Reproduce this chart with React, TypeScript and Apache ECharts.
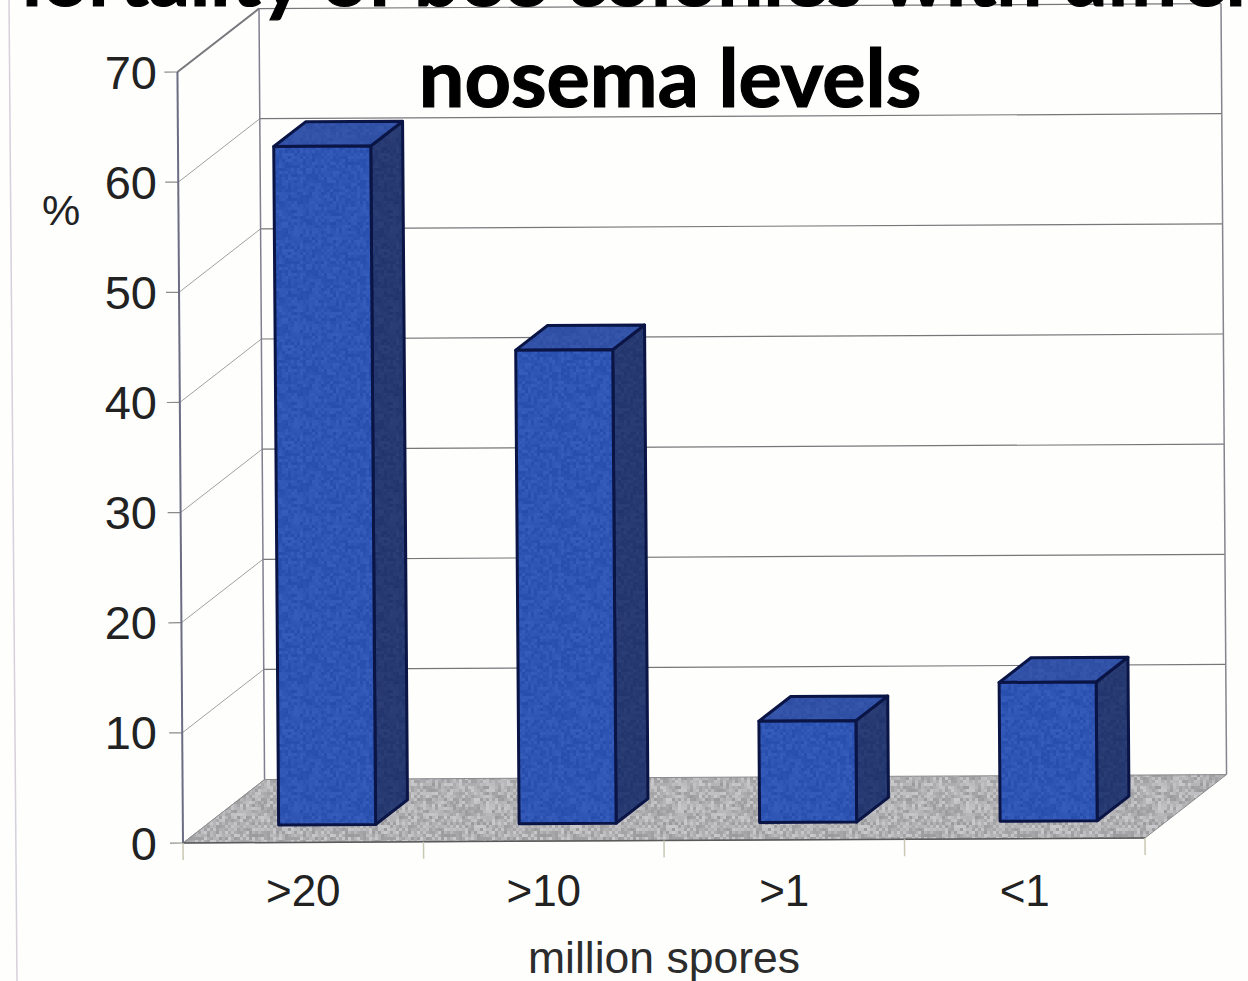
import React, { useEffect, useRef } from "react";
import * as echarts from "echarts";

const categories = [">20", ">10", ">1", "<1"];
const mortality = [61.6, 43.0, 9.2, 12.6];
const yTicks = [0, 10, 20, 30, 40, 50, 60, 70];
const titleLines = ["Mortality of bee colonies with different", "nosema levels"];
const xName = "million spores";
const yName = "%";

const GRID = { left: 183, top: 72, width: 962, height: 771 };
const DEPTH = { dx: 82, dy: -63 };
const BAR = { width: 97, shiftX: 24, shiftY: 17.5, dx: 32, dy: -24.5 };
const SANS = "Liberation Sans, Arial, sans-serif";

// print-grain fill, the same every run: a small linear congruential sequence
const grain = (rgb: number[], spread: number, cell: number) => {
  const size = 96;
  const canvas = document.createElement("canvas");
  canvas.width = size;
  canvas.height = size;
  const ctx = canvas.getContext("2d")!;
  let s = 12345;
  for (let y = 0; y < size; y += cell) {
    for (let x = 0; x < size; x += cell) {
      s = (s * 1103515245 + 12345) & 0x7fffffff;
      const d = (((s >> 12) % 1000) / 1000 - 0.5) * 2 * spread;
      ctx.fillStyle = `rgb(${rgb.map((c) => Math.round(c + d)).join(",")})`;
      ctx.fillRect(x, y, cell, cell);
    }
  }
  return { image: canvas, repeat: "repeat", imageWidth: size, imageHeight: size };
};

// the reference is a slightly skewed scan
const warp = (x: number, y: number): number[] => [
  x + (y - (GRID.top + GRID.height)) * 0.0072,
  y - (x - GRID.left) * 0.0052,
];
const seg = (x1: number, y1: number, x2: number, y2: number, stroke: string, lineWidth = 1) => {
  const a = warp(x1, y1);
  const b = warp(x2, y2);
  return {
    type: "line",
    shape: { x1: a[0], y1: a[1], x2: b[0], y2: b[1] },
    style: { stroke, lineWidth, fill: "none" },
  };
};
const poly = (pts: number[][], fill: any, stroke: string, lineWidth: number) => ({
  type: "polygon",
  shape: { points: pts.map((p) => warp(p[0], p[1])) },
  style: { fill, stroke, lineWidth, lineJoin: "round" },
});

export default function App() {
  const ref = useRef<HTMLDivElement>(null);
  useEffect(() => {
    document.body.style.margin = "0";
    const floorFill = grain([178, 177, 180], 24, 3);
    const frontFill = grain([46, 85, 180], 8, 3);
    const sideFill = grain([38, 57, 112], 5, 3);
    const topFill = grain([50, 82, 168], 5, 3);

    const renderFloor = (params: any, api: any) => {
      const c = params.coordSys;
      const base = api.coord([0, 0])[1];
      const L = c.x;
      const R = c.x + c.width;
      const children: any[] = [
        poly(
          [
            [L, base],
            [R, base],
            [R + DEPTH.dx, base + DEPTH.dy],
            [L + DEPTH.dx, base + DEPTH.dy],
          ],
          floorFill,
          "#8b8b8e",
          1
        ),
        seg(L, base, R, base, "#5a5a5a", 1.5),
      ];
      for (let i = 0; i <= categories.length; i++) {
        const x = L + (i * c.width) / categories.length;
        children.push(seg(x, base, x, base + 17, "#c9c8b4", 1.5));
      }
      return { type: "group", children };
    };

    const renderWalls = (params: any, api: any) => {
      const c = params.coordSys;
      const v = api.value(1);
      const y = api.coord([0, v])[1];
      const L = c.x;
      const R = c.x + c.width;
      const children: any[] = [
        seg(L - 13, y, L, y, "#8a8a8a", 1.2),
        seg(L, y, L + DEPTH.dx, y + DEPTH.dy, v === 70 ? "#77777c" : "#a0a0a0", v === 70 ? 2 : 1),
      ];
      if (v > 0) {
        children.push(seg(L + DEPTH.dx, y + DEPTH.dy, R + DEPTH.dx, y + DEPTH.dy, "#77777a", 1.2));
      }
      if (v === 70) {
        const base = api.coord([0, 0])[1];
        children.push(seg(L, y, L, base, "#6c6c82", 2));
        children.push(seg(L + DEPTH.dx, y + DEPTH.dy, L + DEPTH.dx, base + DEPTH.dy, "#7f7f90", 1.5));
        children.push(seg(R + DEPTH.dx, y + DEPTH.dy, R + DEPTH.dx, base + DEPTH.dy, "#85858f", 1.5));
      }
      return { type: "group", children };
    };

    const renderBar = (_params: any, api: any) => {
      const p = api.coord([api.value(0), api.value(1)]);
      const b = api.coord([api.value(0), 0]);
      const x0 = p[0] + BAR.shiftX - BAR.width / 2;
      const x1 = x0 + BAR.width;
      const yTop = p[1] - BAR.shiftY;
      const yBase = b[1] - BAR.shiftY;
      const edge = "#0a1546";
      return {
        type: "group",
        children: [
          poly(
            [
              [x1, yTop],
              [x1 + BAR.dx, yTop + BAR.dy],
              [x1 + BAR.dx, yBase + BAR.dy],
              [x1, yBase],
            ],
            sideFill,
            edge,
            3
          ),
          poly(
            [
              [x0, yTop],
              [x1, yTop],
              [x1 + BAR.dx, yTop + BAR.dy],
              [x0 + BAR.dx, yTop + BAR.dy],
            ],
            topFill,
            edge,
            3
          ),
          poly(
            [
              [x0, yTop],
              [x1, yTop],
              [x1, yBase],
              [x0, yBase],
            ],
            frontFill,
            edge,
            3
          ),
        ],
      };
    };

    const chart = echarts.init(ref.current!, undefined, { renderer: "svg" });
    const titleStyle = (text: string) => ({
      text,
      fill: "#000",
      stroke: "#000",
      lineWidth: 1.2,
      font: "bold 81px Lato, sans-serif",
      textAlign: "center",
    });
    chart.setOption({
      animation: false,
      backgroundColor: "#fefefd",
      grid: { ...GRID, containLabel: false, outerBoundsMode: "none" },
      xAxis: {
        type: "category",
        data: categories,
        axisLine: { show: false },
        axisTick: { show: false },
        axisLabel: { color: "#222", fontFamily: SANS, fontSize: 44, margin: 25, interval: 0 },
        name: xName,
        nameLocation: "middle",
        nameGap: 92,
        nameTextStyle: { color: "#2c2c2c", fontFamily: SANS, fontSize: 44.5 },
      },
      yAxis: {
        type: "value",
        min: 0,
        max: 70,
        interval: 10,
        axisLine: { show: false },
        axisTick: { show: false },
        splitLine: { show: false },
        axisLabel: { color: "#222", fontFamily: SANS, fontSize: 47, margin: 26 },
      },
      graphic: [
        {
          type: "line",
          silent: true,
          shape: { x1: 9, y1: 0, x2: 17, y2: 981 },
          style: { stroke: "#d6cfdc", lineWidth: 1.5 },
        },
        {
          type: "text",
          x: 61,
          y: 210,
          style: {
            text: yName,
            fill: "#222",
            font: `43px ${SANS}`,
            textAlign: "center",
            textVerticalAlign: "middle",
          },
        },
        { type: "text", x: 670, y: -66, z: 50, style: titleStyle(titleLines[0]) },
        { type: "text", x: 670, y: 35, z: 50, style: titleStyle(titleLines[1]) },
      ],
      series: [
        {
          type: "custom",
          name: "walls",
          z: 1,
          silent: true,
          clip: false,
          renderItem: renderWalls,
          data: yTicks.map((t) => [0, t]),
          encode: { x: 0, y: 1 },
        },
        {
          type: "custom",
          name: "floor",
          z: 2,
          silent: true,
          clip: false,
          renderItem: renderFloor,
          data: [[0, 0]],
          encode: { x: 0, y: 1 },
        },
        {
          type: "custom",
          name: "mortality",
          z: 3,
          silent: true,
          clip: false,
          renderItem: renderBar,
          data: mortality.map((v, i) => [i, v]),
          encode: { x: 0, y: 1 },
        },
      ],
    });
    return () => chart.dispose();
  }, []);
  return <div ref={ref} style={{ width: 1248, height: 981 }} />;
}
